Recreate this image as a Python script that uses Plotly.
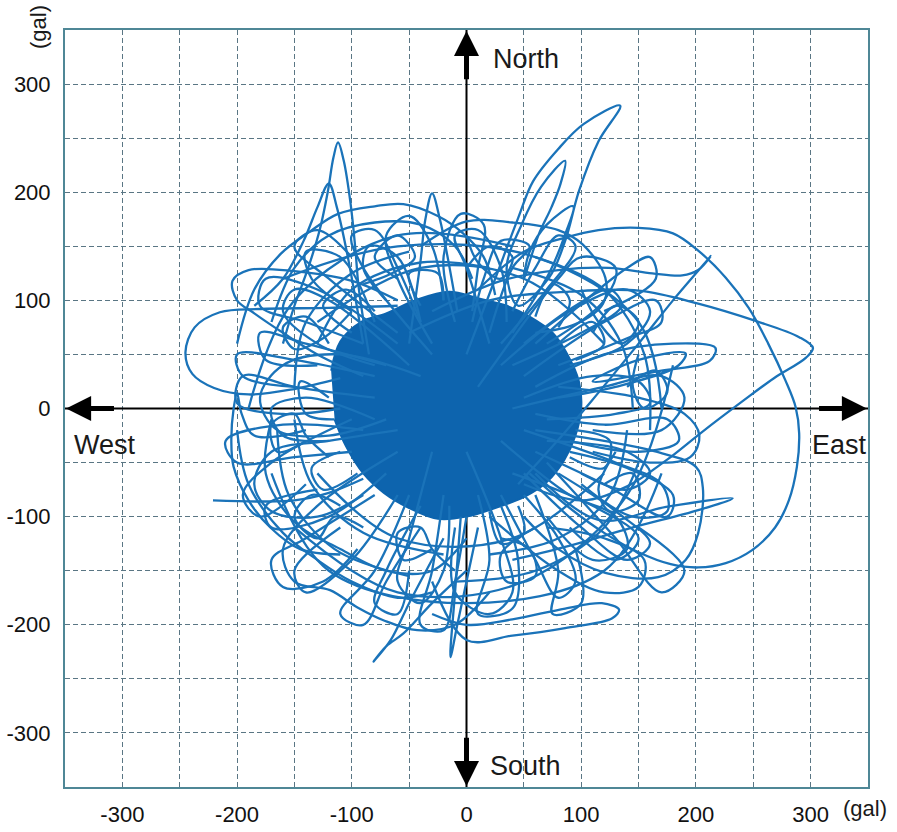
import plotly.graph_objects as go

# ---- hand-read orbit features (gal): (East-West, North-South) ----
core = [(-118, 35), (-110, 62), (-92, 80), (-70, 88), (-45, 100), (-15, 108), (10, 102),
        (35, 95), (55, 85), (75, 70), (88, 50), (98, 25), (100, 0), (95, -25), (85, -48),
        (70, -68), (50, -82), (25, -92), (0, -100), (-25, -102), (-50, -92), (-72, -78),
        (-90, -60), (-105, -35), (-115, -10)]

east_big = [(10, 110), (50, 145), (86, 158), (115, 165), (150, 167), (180, 162), (202, 146),
            (226, 121), (246, 93), (263, 60), (278, 26), (287, 1), (290, -23), (288, -54),
            (281, -85), (269, -110), (249, -131), (226, -143), (202, -147), (178, -144),
            (150, -133), (120, -115), (90, -92), (55, -60)]
cusp_line = [(-30, 90), (30, 118), (80, 128), (124, 130), (162, 125), (188, 123), (202, 128),
             (213, 141), (180, 100), (150, 60), (109, 7), (75, -35), (45, -70)]
east_tip = [(-50, 70), (20, 100), (90, 108), (150, 109), (202, 97), (252, 81), (290, 66),
            (302, 56), (296, 47), (268, 28), (241, 7), (205, -22), (174, -48), (140, -72),
            (100, -85), (50, -70)]
ne_spikes = [(0, 50), (25, 120), (45, 176), (58, 210), (80, 240), (102, 263), (134, 280),
             (115, 247), (98, 201), (86, 155), (72, 121), (45, 95), (35, 130), (48, 170),
             (65, 205), (86, 229), (82, 208), (74, 186), (63, 161), (50, 120), (55, 145),
             (70, 170), (93, 187), (86, 161), (72, 125), (40, 70)]
ne_loops = [(60, 20), (120, 50), (180, 60), (217, 56), (212, 44), (170, 35), (110, 25),
            (150, 45), (191, 51), (185, 40), (130, 20), (80, 10)]
ne_arc = [(-40, 150), (0, 173), (40, 172), (80, 165), (101, 152), (121, 121), (119, 97),
          (95, 78), (60, 70)]
nw_tall = [(-85, 50), (-94, 112), (-97, 149), (-101, 189), (-107, 229), (-112, 246),
           (-116, 232), (-121, 200), (-128, 165), (-138, 130), (-150, 95), (-160, 60)]
nw_spike2 = [(-90, 60), (-104, 143), (-113, 186), (-120, 208), (-130, 186), (-142, 155),
             (-160, 120), (-185, 95)]
nw_spike3 = [(-50, 60), (-40, 137), (-36, 174), (-30, 199), (-23, 174), (-17, 143), (-8, 90)]
top_arc = [(-200, 60), (-185, 110), (-162, 143), (-136, 164), (-112, 180), (-80, 187),
           (-55, 189), (-25, 178), (-3, 162), (15, 140), (25, 105)]
top_arc2 = [(-170, 80), (-150, 130), (-120, 160), (-80, 172), (-40, 170), (-10, 150), (5, 120)]
w_loop = [(-60, 100), (-100, 118), (-150, 127), (-190, 128), (-204, 118), (-200, 100),
          (-185, 88), (-160, 70), (-130, 50), (-90, 30)]
far_left = [(-60, 95), (-120, 93), (-180, 92), (-215, 89), (-237, 75), (-245, 52), (-239, 32),
            (-220, 19), (-190, 13), (-150, 18), (-110, 28)]
left_spike = [(-140, -20), (-185, -25), (-196, -5), (-200, 14), (-203, 0), (-205, -30),
              (-203, -54), (-190, -85), (-171, -110), (-145, -130), (-110, -135)]
sw_tail = [(-221, -85), (-182, -86), (-150, -85), (-120, -78), (-90, -65)]
sw_loops = [(-60, -40), (-130, -90), (-160, -130), (-150, -160), (-119, -168), (-95, -184),
            (-72, -196), (-43, -205), (-10, -200), (20, -170)]
sw_spike = [(-20, -120), (-50, -180), (-66, -214), (-81, -234), (-70, -220), (-55, -208),
            (-30, -180), (0, -150)]
s_spike = [(-5, -100), (-10, -170), (-14, -230), (-8, -200), (0, -160), (10, -110)]
se_bottom = [(-30, -160), (0, -214), (40, -210), (86, -203), (127, -194), (133, -186),
             (118, -180), (86, -185), (40, -195), (0, -200), (-30, -190)]
se_spike = [(60, -60), (115, -103), (174, -91), (232, -83), (202, -94), (145, -110),
            (86, -128), (40, -140)]
se_loop = [(60, -20), (120, -30), (162, -39), (200, -54), (206, -73), (202, -115),
           (191, -140), (167, -156), (121, -152), (80, -130), (50, -100)]
e_loop = [(80, 20), (150, 10), (190, -5), (203, -25), (195, -45), (160, -50), (110, -40)]
se_inner = [(20, -100), (80, -150), (120, -170), (150, -165), (155, -140), (120, -120), (70, -110)]
w_loop2 = [(-60, -20), (-120, -30), (-170, -40), (-185, -70), (-170, -95), (-130, -100), (-90, -80)]
w_loop3 = [(-40, 30), (-110, 50), (-160, 40), (-180, 10), (-165, -20), (-120, -25), (-70, -10)]
sw_loop2 = [(-80, -80), (-140, -120), (-170, -140), (-160, -165), (-125, -160), (-95, -130)]
sw_arc = [(-200, -20), (-190, -70), (-160, -115), (-130, -140), (-100, -160), (-60, -175), (-30, -170)]
sw_arc2 = [(-170, -10), (-175, -60), (-150, -105), (-110, -130), (-70, -150), (-30, -150), (0, -120)]
n_loop = [(-30, 60), (-60, 120), (-70, 160), (-50, 178), (-30, 150), (-20, 100)]
n_loop2 = [(20, 60), (0, 130), (-10, 160), (10, 165), (30, 130), (35, 80)]
ne_loop2 = [(30, 40), (90, 90), (140, 110), (160, 90), (140, 60), (90, 40)]
ne_loop3 = [(10, 20), (80, 120), (100, 140), (130, 130), (120, 100), (70, 60)]
e_loop2 = [(40, 0), (120, 20), (170, 30), (190, 10), (170, -20), (110, -20)]
e_loop3 = [(50, -20), (130, -50), (170, -70), (175, -95), (145, -100), (100, -70)]
se_loop2 = [(30, -30), (90, -80), (130, -100), (140, -130), (110, -140), (70, -100)]
s_loop = [(0, -40), (30, -120), (40, -170), (20, -190), (-10, -170), (-10, -110)]
s_loop2 = [(-30, -40), (-50, -120), (-60, -160), (-40, -180), (-20, -150), (-15, -90)]
nw_loop = [(-50, 40), (-120, 100), (-150, 110), (-160, 90), (-130, 60), (-80, 40)]
nw_loop2 = [(-30, 50), (-90, 130), (-100, 160), (-80, 165), (-60, 130), (-40, 80)]

# ring loops
e_a1 = [(50, 10), (110, 30), (150, 25), (160, 5), (130, -5), (70, -10)]
e_a2 = [(60, -5), (120, -15), (175, -10), (185, -30), (150, -40), (90, -30)]
ne_b1 = [(40, 40), (100, 70), (135, 95), (125, 110), (95, 95), (50, 60)]
ne_b2 = [(50, 30), (120, 80), (165, 100), (170, 80), (140, 65), (80, 40)]
ne_b3 = [(30, 60), (70, 110), (95, 150), (80, 160), (60, 130), (40, 90)]
n_c1 = [(20, 70), (40, 130), (55, 150), (30, 155), (15, 120), (5, 80)]
n_c2 = [(-10, 80), (-20, 140), (-5, 180), (15, 170), (10, 130), (5, 90)]
n_c3 = [(-40, 80), (-60, 140), (-85, 150), (-90, 130), (-70, 100)]
nw_d1 = [(-60, 60), (-130, 110), (-175, 120), (-180, 95), (-140, 80), (-90, 60)]
nw_d2 = [(-70, 40), (-140, 60), (-180, 70), (-175, 45), (-130, 40)]
nw_d3 = [(-80, 80), (-110, 140), (-140, 145), (-135, 120), (-100, 90)]
w_e1 = [(-80, 10), (-150, 20), (-195, 30), (-200, 5), (-160, -5), (-110, 0)]
w_e2 = [(-90, -20), (-160, -15), (-210, -30), (-200, -50), (-150, -45), (-100, -40)]
w_e3 = [(-80, -10), (-140, 10), (-170, 0), (-160, -25), (-120, -30)]
sw_f1 = [(-70, -60), (-120, -100), (-170, -110), (-175, -90), (-130, -75)]
sw_f2 = [(-60, -80), (-100, -140), (-140, -170), (-150, -150), (-110, -110)]
sw_f3 = [(-50, -80), (-80, -150), (-110, -190), (-90, -200), (-70, -160), (-40, -110)]
s_g1 = [(-20, -80), (-30, -150), (-40, -200), (-20, -205), (-10, -160), (0, -100)]
s_g2 = [(10, -80), (20, -140), (10, -190), (40, -185), (45, -140), (30, -90)]
s_g3 = [(30, -80), (60, -140), (80, -175), (95, -160), (80, -120), (50, -80)]
se_h1 = [(50, -60), (100, -110), (140, -140), (160, -125), (130, -95), (80, -60)]
se_h2 = [(60, -40), (120, -70), (175, -100), (180, -80), (140, -55), (90, -40)]
se_h3 = [(70, -50), (130, -120), (170, -170), (190, -150), (150, -110)]
arc_i1 = [(-160, 120), (-60, 150), (60, 140), (150, 80), (170, 0)]
arc_i2 = [(-170, -60), (-120, -150), (0, -180), (120, -150), (170, -60)]
arc_i3 = [(-190, 0), (-150, 100), (-60, 160), (40, 150)]
arc_i4 = [(180, 40), (140, -80), (50, -160), (-60, -170), (-150, -110)]
arc_i5 = [(-130, 80), (-40, 130), (50, 120), (120, 60)]
arc_i6 = [(120, -60), (40, -120), (-60, -120), (-130, -60)]
edge_j1 = [(-100, 70), (-125, 95), (-105, 110), (-80, 90)]
edge_j2 = [(80, 60), (110, 80), (120, 60), (95, 45)]
edge_j3 = [(95, -20), (125, -30), (120, -55), (90, -45)]
edge_j4 = [(-110, -40), (-135, -55), (-125, -75), (-95, -60)]
edge_j5 = [(-40, 95), (-50, 125), (-25, 125), (-20, 100)]
edge_j6 = [(20, -95), (30, -125), (50, -115), (45, -90)]
edge_j7 = [(-120, 10), (-145, 25), (-140, -5), (-115, -10)]
edge_j8 = [(60, 85), (75, 115), (90, 100), (80, 75)]

# tangential arcs and curls around the dense core
tan_1 = [(-130, 60), (-100, 110), (-40, 135), (20, 130)]
tan_2 = [(40, 130), (100, 105), (135, 60), (145, 0)]
tan_3 = [(140, -20), (125, -80), (80, -120), (20, -135)]
tan_4 = [(-20, -135), (-90, -115), (-135, -70), (-150, -10)]
tan_5 = [(-150, 20), (-140, 80), (-100, 125), (-50, 145)]
tan_6 = [(60, 140), (120, 110), (155, 50), (160, -20)]
tan_7 = [(150, -50), (120, -110), (60, -150), (-10, -160)]
tan_8 = [(-50, -155), (-115, -130), (-155, -80), (-165, -20)]
curl_1 = [(-120, 60), (-140, 85), (-160, 75), (-150, 55), (-125, 65), (-100, 90)]
curl_2 = [(110, 70), (130, 95), (150, 80), (135, 60), (115, 80), (100, 110)]
curl_3 = [(120, -70), (145, -60), (150, -85), (125, -95), (115, -75), (130, -40)]
curl_4 = [(-110, -90), (-135, -80), (-150, -100), (-130, -120), (-115, -100), (-90, -110)]
curl_5 = [(30, -120), (55, -130), (60, -155), (35, -160), (30, -135), (60, -110)]
curl_6 = [(-60, 120), (-80, 140), (-60, 160), (-45, 140), (-65, 125), (-90, 115)]
curl_7 = [(-140, -30), (-165, -40), (-170, -15), (-150, -5), (-140, -25), (-120, -45)]
curl_8 = [(140, 20), (165, 35), (175, 15), (155, 0), (145, 20), (150, 50)]
curl_9 = [(0, 130), (20, 150), (40, 140), (30, 120), (10, 135), (0, 160)]
curl_10 = [(-30, -130), (-55, -140), (-60, -115), (-40, -110), (-30, -130), (-10, -150)]
ray_1 = [(40, -60), (110, -90), (150, -120), (130, -140), (90, -110)]
ray_2 = [(70, -30), (140, -40), (160, -60), (140, -75), (100, -60)]
ray_3 = [(-60, 70), (-120, 120), (-150, 150), (-130, 165), (-100, 140)]
ray_4 = [(-80, 30), (-150, 45), (-200, 50), (-195, 30), (-150, 20)]
ray_5 = [(-100, -10), (-170, -50), (-195, -80), (-180, -100), (-140, -70)]
ray_6 = [(-40, -90), (-70, -150), (-80, -180), (-60, -190), (-50, -150)]
ray_7 = [(60, -80), (80, -150), (75, -190), (100, -180), (95, -130)]
ray_8 = [(60, 60), (140, 130), (160, 140), (165, 120), (120, 90)]

tick_vals = [-300, -250, -200, -150, -100, -50, 0, 50, 100, 150, 200, 250, 300]
tick_text = ["-300", "", "-200", "", "-100", "", "0", "", "100", "", "200", "", "300"]
axis_range = [-350, 350]

segments = [east_big, cusp_line, east_tip, ne_spikes, ne_loops, ne_arc, nw_tall, nw_spike2,
            nw_spike3, top_arc, top_arc2, w_loop, far_left, left_spike, sw_tail, sw_loops,
            sw_spike, s_spike, se_bottom, se_spike, se_loop, e_loop, se_inner, w_loop2,
            w_loop3, sw_loop2, sw_arc, sw_arc2, n_loop, n_loop2, ne_loop2, ne_loop3, e_loop2,
            e_loop3, se_loop2, s_loop, s_loop2, nw_loop, nw_loop2,
            e_a1, e_a2, ne_b1, ne_b2, ne_b3, n_c1, n_c2, n_c3, nw_d1, nw_d2, nw_d3,
            w_e1, w_e2, w_e3, sw_f1, sw_f2, sw_f3, s_g1, s_g2, s_g3, se_h1, se_h2, se_h3,
            arc_i1, arc_i2, arc_i3, arc_i4, arc_i5, arc_i6,
            edge_j1, edge_j2, edge_j3, edge_j4, edge_j5, edge_j6, edge_j7, edge_j8,
            tan_1, tan_2, tan_3, tan_4, tan_5, tan_6, tan_7, tan_8,
            curl_1, curl_2, curl_3, curl_4, curl_5, curl_6, curl_7, curl_8, curl_9, curl_10,
            ray_1, ray_2, ray_3, ray_4, ray_5, ray_6, ray_7, ray_8]

LINE = "#1a73b9"
FILL = "#0d64ae"

fig = go.Figure()
fig.add_trace(go.Scatter(
    x=[p[0] for p in core], y=[p[1] for p in core], mode="lines", fill="toself",
    fillcolor=FILL, line=dict(color=FILL, width=2, shape="spline", smoothing=1.0),
    hoverinfo="skip", showlegend=False))

for seg in segments:
    fig.add_trace(go.Scatter(
        x=[p[0] for p in seg], y=[p[1] for p in seg], mode="lines",
        line=dict(color=LINE, width=2.3, shape="spline", smoothing=1.0),
        hoverinfo="skip", showlegend=False))

# zero axes (drawn beneath the orbit, above the grid)
fig.add_shape(type="line", x0=axis_range[0], x1=axis_range[1], y0=0, y1=0,
              line=dict(color="black", width=2), layer="between")
fig.add_shape(type="line", x0=0, x1=0, y0=axis_range[0], y1=axis_range[1],
              line=dict(color="black", width=2), layer="between")

arrow = dict(showarrow=True, arrowhead=2, arrowsize=1.0, arrowwidth=5, arrowcolor="black",
             text="", axref="x", ayref="y", xref="x", yref="y")
fig.add_annotation(x=0, y=349, ax=0, ay=303, **arrow)
fig.add_annotation(x=0, y=-349, ax=0, ay=-303, **arrow)
fig.add_annotation(x=-349, y=0, ax=-306, ay=0, **arrow)
fig.add_annotation(x=349, y=0, ax=306, ay=0, **arrow)

lab = dict(showarrow=False, font=dict(family="Liberation Sans, Arial", size=27, color="#1a1a1a"),
           xref="x", yref="y")
fig.add_annotation(x=21, y=323, text="North", xanchor="left", yanchor="middle", **lab)
fig.add_annotation(x=19, y=-331, text="South", xanchor="left", yanchor="middle", **lab)
fig.add_annotation(x=-344, y=-34, text="West", xanchor="left", yanchor="middle", **lab)
fig.add_annotation(x=299, y=-34, text="East", xanchor="left", yanchor="middle", **lab)

unit = dict(showarrow=False, font=dict(family="Liberation Sans, Arial", size=22, color="#1a1a1a"),
            xref="paper", yref="paper")
fig.add_annotation(x=1.0, y=0, yshift=-21, xshift=-27, text="(gal)", xanchor="left",
                   yanchor="middle", **unit)
fig.add_annotation(x=0, y=1, xshift=-27, yshift=3, text="(gal)", textangle=-90,
                   xanchor="center", yanchor="middle", **unit)

axis_common = dict(range=axis_range, tickmode="array", tickvals=tick_vals, ticktext=tick_text,
                   showgrid=True, gridcolor="#5a7684", gridwidth=1, griddash="5px,3px",
                   zeroline=False, showline=True, mirror=True, linecolor="#4f8796", linewidth=2,
                   automargin=False, ticks="",
                   tickfont=dict(family="Liberation Sans, Arial", size=22, color="#111111"))
fig.update_xaxes(**axis_common, ticklabelstandoff=7)
fig.update_yaxes(**axis_common, ticklabelstandoff=8)

fig.update_layout(width=897, height=832, margin=dict(l=65, r=29, t=30, b=45, autoexpand=False),
                  plot_bgcolor="white", paper_bgcolor="white")

fig.write_html("out.html")
